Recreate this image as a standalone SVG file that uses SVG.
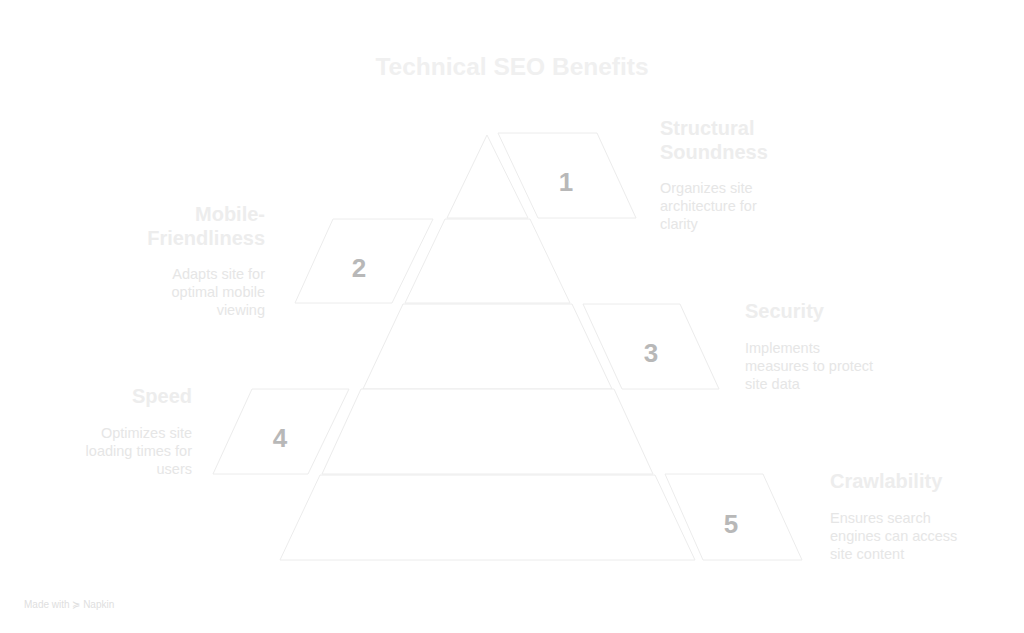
<svg xmlns="http://www.w3.org/2000/svg" width="1024" height="633" viewBox="0 0 1024 633">
<style>
.b{fill:#fff;stroke:#ececec;stroke-width:1}
.n{font:bold 26px "Liberation Sans",Arial,sans-serif;fill:#b8b8b8;text-anchor:middle}
.t{font:bold 20px "Liberation Sans",Arial,sans-serif;fill:#ededed}
.d{font:14.5px "Liberation Sans",Arial,sans-serif;fill:#e6e6e6}
.r{text-anchor:end}
</style>
<rect width="1024" height="633" fill="#fff"/>
<text x="512" y="75" text-anchor="middle" style="font:bold 24.5px 'Liberation Sans',Arial,sans-serif;fill:#f0f0f0">Technical SEO Benefits</text>
<g id="pyramid">
<polygon class="b" points="487,135 447,218 528,218"/>
<polygon class="b" points="445,219 530,219 570,303 405,303"/>
<polygon class="b" points="403,304 572,304 612,389 363,389"/>
<polygon class="b" points="361,389 614,389 653,474 322,474"/>
<polygon class="b" points="320,475 655,475 695,560 280,560"/>
</g>
<g id="n1"><polygon class="b" points="498,133 597,133 636,218 538,218"/><text class="n" x="566" y="191">1</text>
<text class="t" x="660" y="135">Structural</text><text class="t" x="660" y="159">Soundness</text>
<text class="d" x="660" y="193">Organizes site</text><text class="d" x="660" y="211">architecture for</text><text class="d" x="660" y="229">clarity</text></g>
<g id="n2"><polygon class="b" points="333,219 433,219 392,303 295,303"/><text class="n" x="359" y="277">2</text>
<text class="t r" x="265" y="221">Mobile-</text><text class="t r" x="265" y="245">Friendliness</text>
<text class="d r" x="265" y="279">Adapts site for</text><text class="d r" x="265" y="297">optimal mobile</text><text class="d r" x="265" y="315">viewing</text></g>
<g id="n3"><polygon class="b" points="583,304 680,304 719,389 622,389"/><text class="n" x="651" y="362">3</text>
<text class="t" x="745" y="318">Security</text>
<text class="d" x="745" y="353">Implements</text><text class="d" x="745" y="371">measures to protect</text><text class="d" x="745" y="389">site data</text></g>
<g id="n4"><polygon class="b" points="252,389 349,389 308,474 213,474"/><text class="n" x="280" y="447">4</text>
<text class="t r" x="192" y="403">Speed</text>
<text class="d r" x="192" y="438">Optimizes site</text><text class="d r" x="192" y="456">loading times for</text><text class="d r" x="192" y="474">users</text></g>
<g id="n5"><polygon class="b" points="665,474 763,474 802,560 703,560"/><text class="n" x="731" y="533">5</text>
<text class="t" x="830" y="488">Crawlability</text>
<text class="d" x="830" y="523">Ensures search</text><text class="d" x="830" y="541">engines can access</text><text class="d" x="830" y="559">site content</text></g>
<g id="connectors"/>
<text x="24" y="608" style="font:10px 'Liberation Sans',Arial,sans-serif;fill:#e0e0e0">Made with ≽ Napkin</text>
</svg>
